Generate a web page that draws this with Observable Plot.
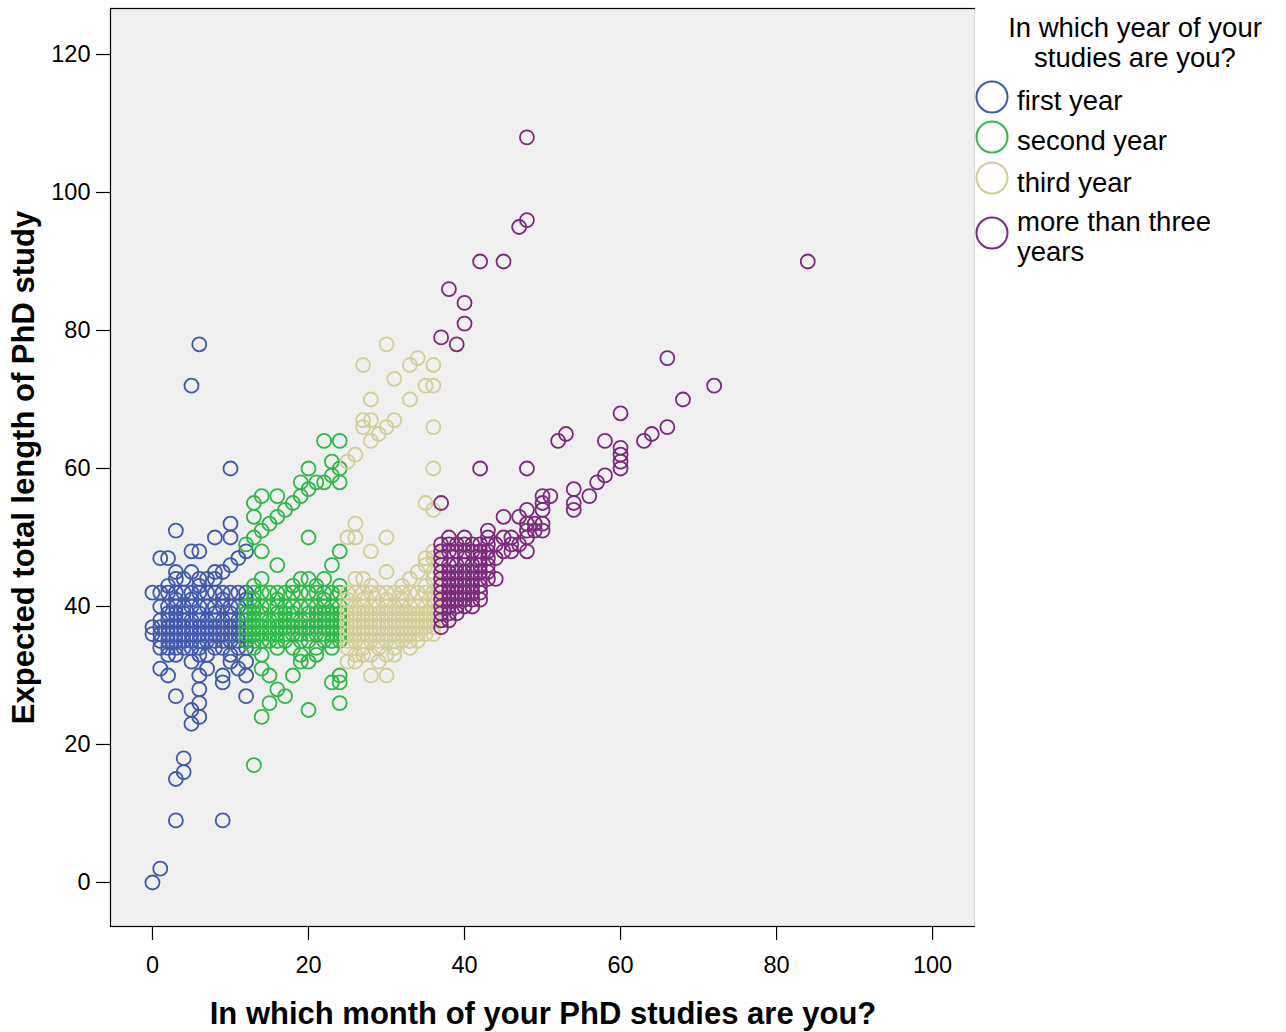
<!DOCTYPE html>
<html>
<head>
<meta charset="utf-8">
<script src="https://cdn.jsdelivr.net/npm/d3@7"></script>
<script src="https://cdn.jsdelivr.net/npm/@observablehq/plot@0.6"></script>
<style>
  body { margin: 0; background: #ffffff; font-family: "Liberation Sans", Arial, sans-serif; }
  #wrap { position: relative; width: 1286px; height: 1032px; }
  #chart { position: absolute; left: 0; top: 0; }
  #legend { position: absolute; left: 960px; top: 0; }
</style>
</head>
<body>
<div id="wrap"><div id="chart"></div><svg id="legend" width="326" height="300"></svg></div>
<script>
// ---- data: [month, expected total length] ----
const groups = ["first year", "second year", "third year", "more than three years"];
const colors = ["#3e58ac", "#2eb848", "#d3ce97", "#7c287d"];
const xTicks = [0, 20, 40, 60, 80, 100];
const yTicks = [0, 20, 40, 60, 80, 100, 120];

const firstYear = [
  [0,0],[1,2],[3,9],[9,9],[3,15],[4,16],[4,18],[5,72],[6,78],[10,60],[3,51],[10,52],[10,50],[8,50],
  [1,47],[2,47],[5,48],[6,48],[11,47],[12,48],[10,46],[9,45],[4,44],[5,45],[6,44],[7,44],[8,45],[3,44],
  [1,31],[2,30],[3,27],[6,28],[6,26],[5,25],[6,24],[5,23],[12,27],[7,31],[6,30],[9,30],[9,29],[10,32],
  [11,31],[12,32],[5,32],[3,33],[12,30],
  [0,36],[0,37],[0,42],
  [1,34],[1,35],[1,36],[1,37],[1,38],[1,40],[1,42],
  [2,33],[2,34],[2,35],[2,36],[2,37],[2,38],[2,39],[2,40],[2,42],[2,43],
  [3,34],[3,35],[3,36],[3,37],[3,38],[3,39],[3,40],[3,41],[3,42],[3,45],
  [4,34],[4,35],[4,36],[4,37],[4,38],[4,39],[4,40],[4,42],
  [5,34],[5,35],[5,36],[5,37],[5,38],[5,40],[5,41],[5,42],
  [6,33],[6,34],[6,35],[6,36],[6,37],[6,38],[6,39],[6,40],[6,42],[6,43],
  [7,33],[7,35],[7,36],[7,37],[7,38],[7,40],[7,42],
  [8,34],[8,35],[8,36],[8,37],[8,38],[8,39],[8,40],[8,42],[8,44],
  [9,34],[9,35],[9,36],[9,37],[9,38],[9,40],[9,41],[9,42],
  [10,33],[10,35],[10,36],[10,37],[10,38],[10,39],[10,40],[10,42],
  [11,34],[11,35],[11,36],[11,37],[11,38],[11,40],[11,42],
  [12,34],[12,35],[12,36],[12,37],[12,38],[12,39],[12,40],[12,41],[12,42]
];

const secondYear = [
  [13,17],[14,24],[15,26],[20,25],[24,26],[14,31],[15,30],[16,28],[17,27],[18,30],[19,32],[20,32],[21,33],
  [23,29],[24,29],[24,30],[22,64],[24,64],[23,61],[24,60],[20,60],[19,58],[24,58],
  [12,49],[13,50],[14,51],[15,52],[16,53],[17,54],[18,55],[19,56],[20,57],[21,58],[22,58],[23,59],
  [16,56],[14,56],[13,55],[13,53],[20,50],[14,48],[16,46],[24,48],[23,46],
  [13,43],[14,44],[19,44],[20,44],[22,44],[21,43],[18,43],
  [12,35],[12,36],[12,37],[12,38],[12,39],[12,40],
  [13,34],[13,35],[13,36],[13,37],[13,38],[13,39],[13,40],[13,41],[13,42],
  [14,33],[14,35],[14,36],[14,37],[14,38],[14,39],[14,40],[14,42],
  [15,35],[15,36],[15,37],[15,38],[15,40],[15,42],
  [16,34],[16,35],[16,36],[16,37],[16,38],[16,39],[16,40],[16,41],[16,42],
  [17,35],[17,36],[17,37],[17,38],[17,39],[17,40],[17,42],
  [18,34],[18,36],[18,37],[18,38],[18,39],[18,40],[18,42],
  [19,33],[19,35],[19,36],[19,37],[19,38],[19,40],[19,42],
  [20,35],[20,36],[20,37],[20,38],[20,39],[20,40],[20,42],
  [21,34],[21,36],[21,37],[21,38],[21,39],[21,40],[21,42],
  [22,35],[22,36],[22,37],[22,38],[22,39],[22,40],[22,41],[22,42],
  [23,34],[23,35],[23,36],[23,37],[23,38],[23,39],[23,40],[23,42],
  [24,35],[24,36],[24,37],[24,38],[24,39],[24,40],[24,42],[24,43]
];

const thirdYear = [
  [30,78],[27,75],[33,75],[34,76],[36,75],[31,73],[35,72],[36,72],[28,70],[33,70],[27,67],[28,67],[31,67],
  [27,66],[30,66],[29,65],[28,64],[36,66],[26,62],[25,61],[36,60],[35,55],[36,54],[26,52],[25,50],[26,50],
  [30,50],[28,48],[30,45],[26,44],[27,44],[28,43],[34,45],[35,47],[36,48],
  [25,32],[26,32],[28,30],[30,30],[29,32],[27,33],[31,33],
  [25,34],[25,35],[25,36],[25,37],[25,38],[25,39],[25,40],[25,41],[25,42],
  [26,33],[26,35],[26,36],[26,37],[26,38],[26,39],[26,40],[26,42],
  [27,34],[27,35],[27,36],[27,37],[27,38],[27,39],[27,40],[27,41],[27,42],
  [28,33],[28,35],[28,36],[28,37],[28,38],[28,39],[28,40],[28,42],
  [29,34],[29,35],[29,36],[29,37],[29,38],[29,39],[29,40],[29,42],
  [30,33],[30,35],[30,36],[30,37],[30,38],[30,39],[30,40],[30,41],[30,42],
  [31,34],[31,35],[31,36],[31,37],[31,38],[31,39],[31,40],[31,42],
  [32,35],[32,36],[32,37],[32,38],[32,39],[32,40],[32,41],[32,42],[32,43],
  [33,34],[33,35],[33,36],[33,37],[33,38],[33,39],[33,40],[33,42],[33,44],
  [34,35],[34,36],[34,37],[34,38],[34,39],[34,40],[34,42],
  [35,36],[35,37],[35,38],[35,39],[35,40],[35,42],[35,43],[35,46],
  [36,36],[36,37],[36,38],[36,39],[36,40],[36,41],[36,42],[36,44],[36,45],[36,47]
];

const laterYears = [
  [48,108],[48,96],[47,95],[42,90],[45,90],[84,90],[38,86],[40,84],[40,81],[39,78],[37,79],[42,60],[48,60],
  [37,55],[66,76],[72,72],[68,70],[60,68],[66,66],[64,65],[63,64],[58,64],[53,65],[52,64],[60,63],[60,62],
  [60,61],[60,60],[58,59],[57,58],[56,56],[54,57],[54,55],[54,54],[51,56],[50,56],[50,54],[50,52],[50,51],
  [50,55],[48,54],[47,53],[45,53],[48,52],[49,52],[48,51],[49,51],[48,50],[46,50],[45,50],[43,51],[43,50],
  [48,48],[44,49],[46,49],[47,49],[43,49],[44,47],[45,48],[46,48],[44,44],
  [37,37],[37,38],[37,39],[37,40],[37,41],[37,42],[37,43],[37,44],[37,45],[37,46],[37,47],[37,48],[37,49],
  [38,38],[38,39],[38,40],[38,41],[38,42],[38,43],[38,44],[38,45],[38,46],[38,48],[38,49],[38,50],
  [39,39],[39,40],[39,41],[39,42],[39,43],[39,44],[39,45],[39,46],[39,48],[39,49],
  [40,40],[40,41],[40,42],[40,43],[40,44],[40,45],[40,46],[40,47],[40,48],[40,49],[40,50],
  [41,40],[41,41],[41,42],[41,43],[41,44],[41,45],[41,46],[41,48],[41,49],
  [42,41],[42,42],[42,43],[42,44],[42,45],[42,46],[42,47],[42,48],[42,49],
  [43,44],[43,45],[43,46],[43,47],[43,48]
];

const seriesList = [firstYear, secondYear, thirdYear, laterYears];
const rows = seriesList.flatMap((s, i) => s.map(([m, v]) => ({month: m, length: v, group: groups[i]})));

const chart = Plot.plot({
  width: 975,
  height: 1032,
  marginLeft: 110,
  marginRight: 0,
  marginTop: 8,
  marginBottom: 106,
  style: {fontFamily: "Liberation Sans, Arial, sans-serif", fontSize: "23.5px", color: "#000", background: "transparent"},
  x: {domain: [-5.38, 105.5]},
  y: {domain: [-6.38, 126.67]},
  color: {domain: groups, range: colors},
  marks: [
    Plot.frame({fill: "#f0f0f0", stroke: "#000", strokeWidth: 1.2}),
    Plot.dot(rows, {x: "month", y: "length", stroke: "group", r: 7, strokeWidth: 1.8, fill: "none"}),
    Plot.axisX({ticks: xTicks, tickSize: 14, tickPadding: 16, tickFormat: d => d, label: "In which month of your PhD studies are you?", labelAnchor: "center", labelOffset: 97, labelArrow: "none", fontSize: 23.5, strokeWidth: 1.2}),
    Plot.axisY({ticks: yTicks, tickSize: 14, tickPadding: 6, tickFormat: d => d, label: "Expected total length of PhD study", labelAnchor: "center", labelOffset: 99, labelArrow: "none", fontSize: 23.5, strokeWidth: 1.2})
  ]
});
// make axis labels bold and larger
chart.querySelectorAll("g[aria-label='x-axis label'] text, g[aria-label='y-axis label'] text").forEach(t => {
  t.setAttribute("font-weight", "bold");
  t.setAttribute("font-size", "31px");
});
document.getElementById("chart").appendChild(chart);

// legend
const lg = d3.select("#legend");
const fs = 27.5;
lg.append("text").attr("x", 175).attr("y", 37).attr("text-anchor", "middle").attr("font-size", fs).text("In which year of your");
lg.append("text").attr("x", 175).attr("y", 67).attr("text-anchor", "middle").attr("font-size", fs).text("studies are you?");
const items = [
  {c: colors[0], cy: 97, lines: ["first year"], by: 110},
  {c: colors[1], cy: 137, lines: ["second year"], by: 150},
  {c: colors[2], cy: 178, lines: ["third year"], by: 192},
  {c: colors[3], cy: 233, lines: ["more than three", "years"], by: 231}
];
items.forEach(it => {
  lg.append("circle").attr("cx", 32).attr("cy", it.cy).attr("r", 15.5).attr("fill", "none").attr("stroke", it.c).attr("stroke-width", 2);
  it.lines.forEach((l, j) => lg.append("text").attr("x", 57).attr("y", it.by + j * 30).attr("font-size", fs).text(l));
});
</script>
</body>
</html>
